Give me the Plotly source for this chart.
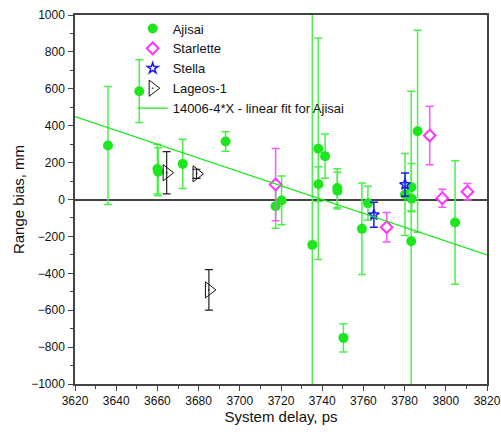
import plotly.graph_objects as go

# ---- data ----
ajisai_x = [3636, 3651.2, 3660, 3660.4, 3672.3, 3693.1, 3717.4, 3720.3, 3735.2, 3738.1, 3738.2,
            3741.4, 3747.3, 3747.4, 3750.3, 3759.3, 3762.2, 3780.2, 3783.3, 3783.4, 3783.2, 3786.3, 3804.5]
ajisai_y = [293, 587, 165, 150, 193, 314, -36, -5, -246, 275, 83,
            235, 62, 48, -750, -159, -20, 27, 67, 4, -226, 370, -125]
ajisai_err = [320, 170, 135, 130, 133, 53, 120, 132, 1400, 600, 94,
              120, 105, 100, 76, 248, 92, 222, 128, 70, 813, 548, 335]

starlette_x = [3717.4, 3771.3, 3792.2, 3798.3, 3810.5]
starlette_y = [81, -150, 347, 7, 42]
starlette_err = [196, 80, 158, 49, 45]

stella_x = [3765.1, 3780.2]
stella_y = [-83, 81]
stella_err = [68, 63]

lageos_x = [3664.5, 3679, 3685]
lageos_y = [145, 139, -490]
lageos_err = [114, 25, 110]

fit_x = [3620, 3820]
fit_intercept = 14006
fit_slope = -3.745
fit_y = [fit_intercept + fit_slope * v for v in fit_x]

GREEN = "#1ee61e"
GREEN_ERR = "#4cef4c"
FONT = "Liberation Sans, Arial"

fig = go.Figure()
fig.add_trace(go.Scatter(
    x=ajisai_x, y=ajisai_y, mode="markers", name="Ajisai",
    marker=dict(symbol="circle", size=10, color=GREEN),
    error_y=dict(type="data", array=ajisai_err, color=GREEN_ERR, thickness=1.5, width=4),
))
fig.add_trace(go.Scatter(
    x=starlette_x, y=starlette_y, mode="markers", name="Starlette",
    marker=dict(symbol="diamond", size=9, color="white", line=dict(color="#ff33ff", width=2)),
    error_y=dict(type="data", array=starlette_err, color="#ff55ff", thickness=1.5, width=4),
))
fig.add_trace(go.Scatter(
    x=stella_x, y=stella_y, mode="markers", name="Stella",
    marker=dict(symbol="star-open", size=8, color="#1a1aee", line=dict(width=1.5)),
    error_y=dict(type="data", array=stella_err, color="#1a1aee", thickness=1.5, width=4),
))
fig.add_trace(go.Scatter(
    x=lageos_x, y=lageos_y, mode="markers", name="Lageos-1",
    marker=dict(symbol="triangle-right-open-dot", size=14, color="#111111", line=dict(width=1)),
    error_y=dict(type="data", array=lageos_err, color="#222222", thickness=1.2, width=4),
))
fig.add_trace(go.Scatter(
    x=fit_x, y=fit_y, mode="lines", name="14006-4*X - linear fit for Ajisai",
    line=dict(color=GREEN, width=1.2),
))

axis_common = dict(
    showline=True, linecolor="#444", linewidth=1.5, mirror=True,
    ticks="outside", ticklen=5, tickcolor="#444", tickwidth=1,
    showgrid=False, ticklabeloverflow="allow",
    tickfont=dict(family=FONT, size=12, color="#111"),
)
fig.update_xaxes(
    range=[3620, 3820], dtick=20, tick0=3620,
    minor=dict(ticks="outside", ticklen=3, dtick=10, tickcolor="#444"),
    zeroline=False,
    title=dict(text="System delay, ps", font=dict(family=FONT, size=15, color="#111"), standoff=0),
    **axis_common,
)
fig.update_yaxes(
    range=[-1000, 1000], dtick=200, tick0=0,
    minor=dict(ticks="outside", ticklen=3, dtick=100, tickcolor="#444"),
    zeroline=True, zerolinecolor="#444", zerolinewidth=1.5,
    ticklabelstandoff=1,
    title=dict(text="Range bias, mm", font=dict(family=FONT, size=15, color="#111"), standoff=3),
    **axis_common,
)
fig.update_layout(
    width=501, height=434,
    margin=dict(l=75, r=14, t=15, b=50, autoexpand=False),
    paper_bgcolor="white", plot_bgcolor="white",
    showlegend=True,
    legend=dict(x=0.14, y=1.004, xanchor="left", yanchor="top",
                bgcolor="rgba(0,0,0,0)", borderwidth=0,
                font=dict(family=FONT, size=13, color="#111"),
                tracegroupgap=0),
)
fig.write_html(
    "out.html",
    config={"displayModeBar": False},
    post_script="document.body.style.margin='0';document.documentElement.style.overflow='hidden';",
)
